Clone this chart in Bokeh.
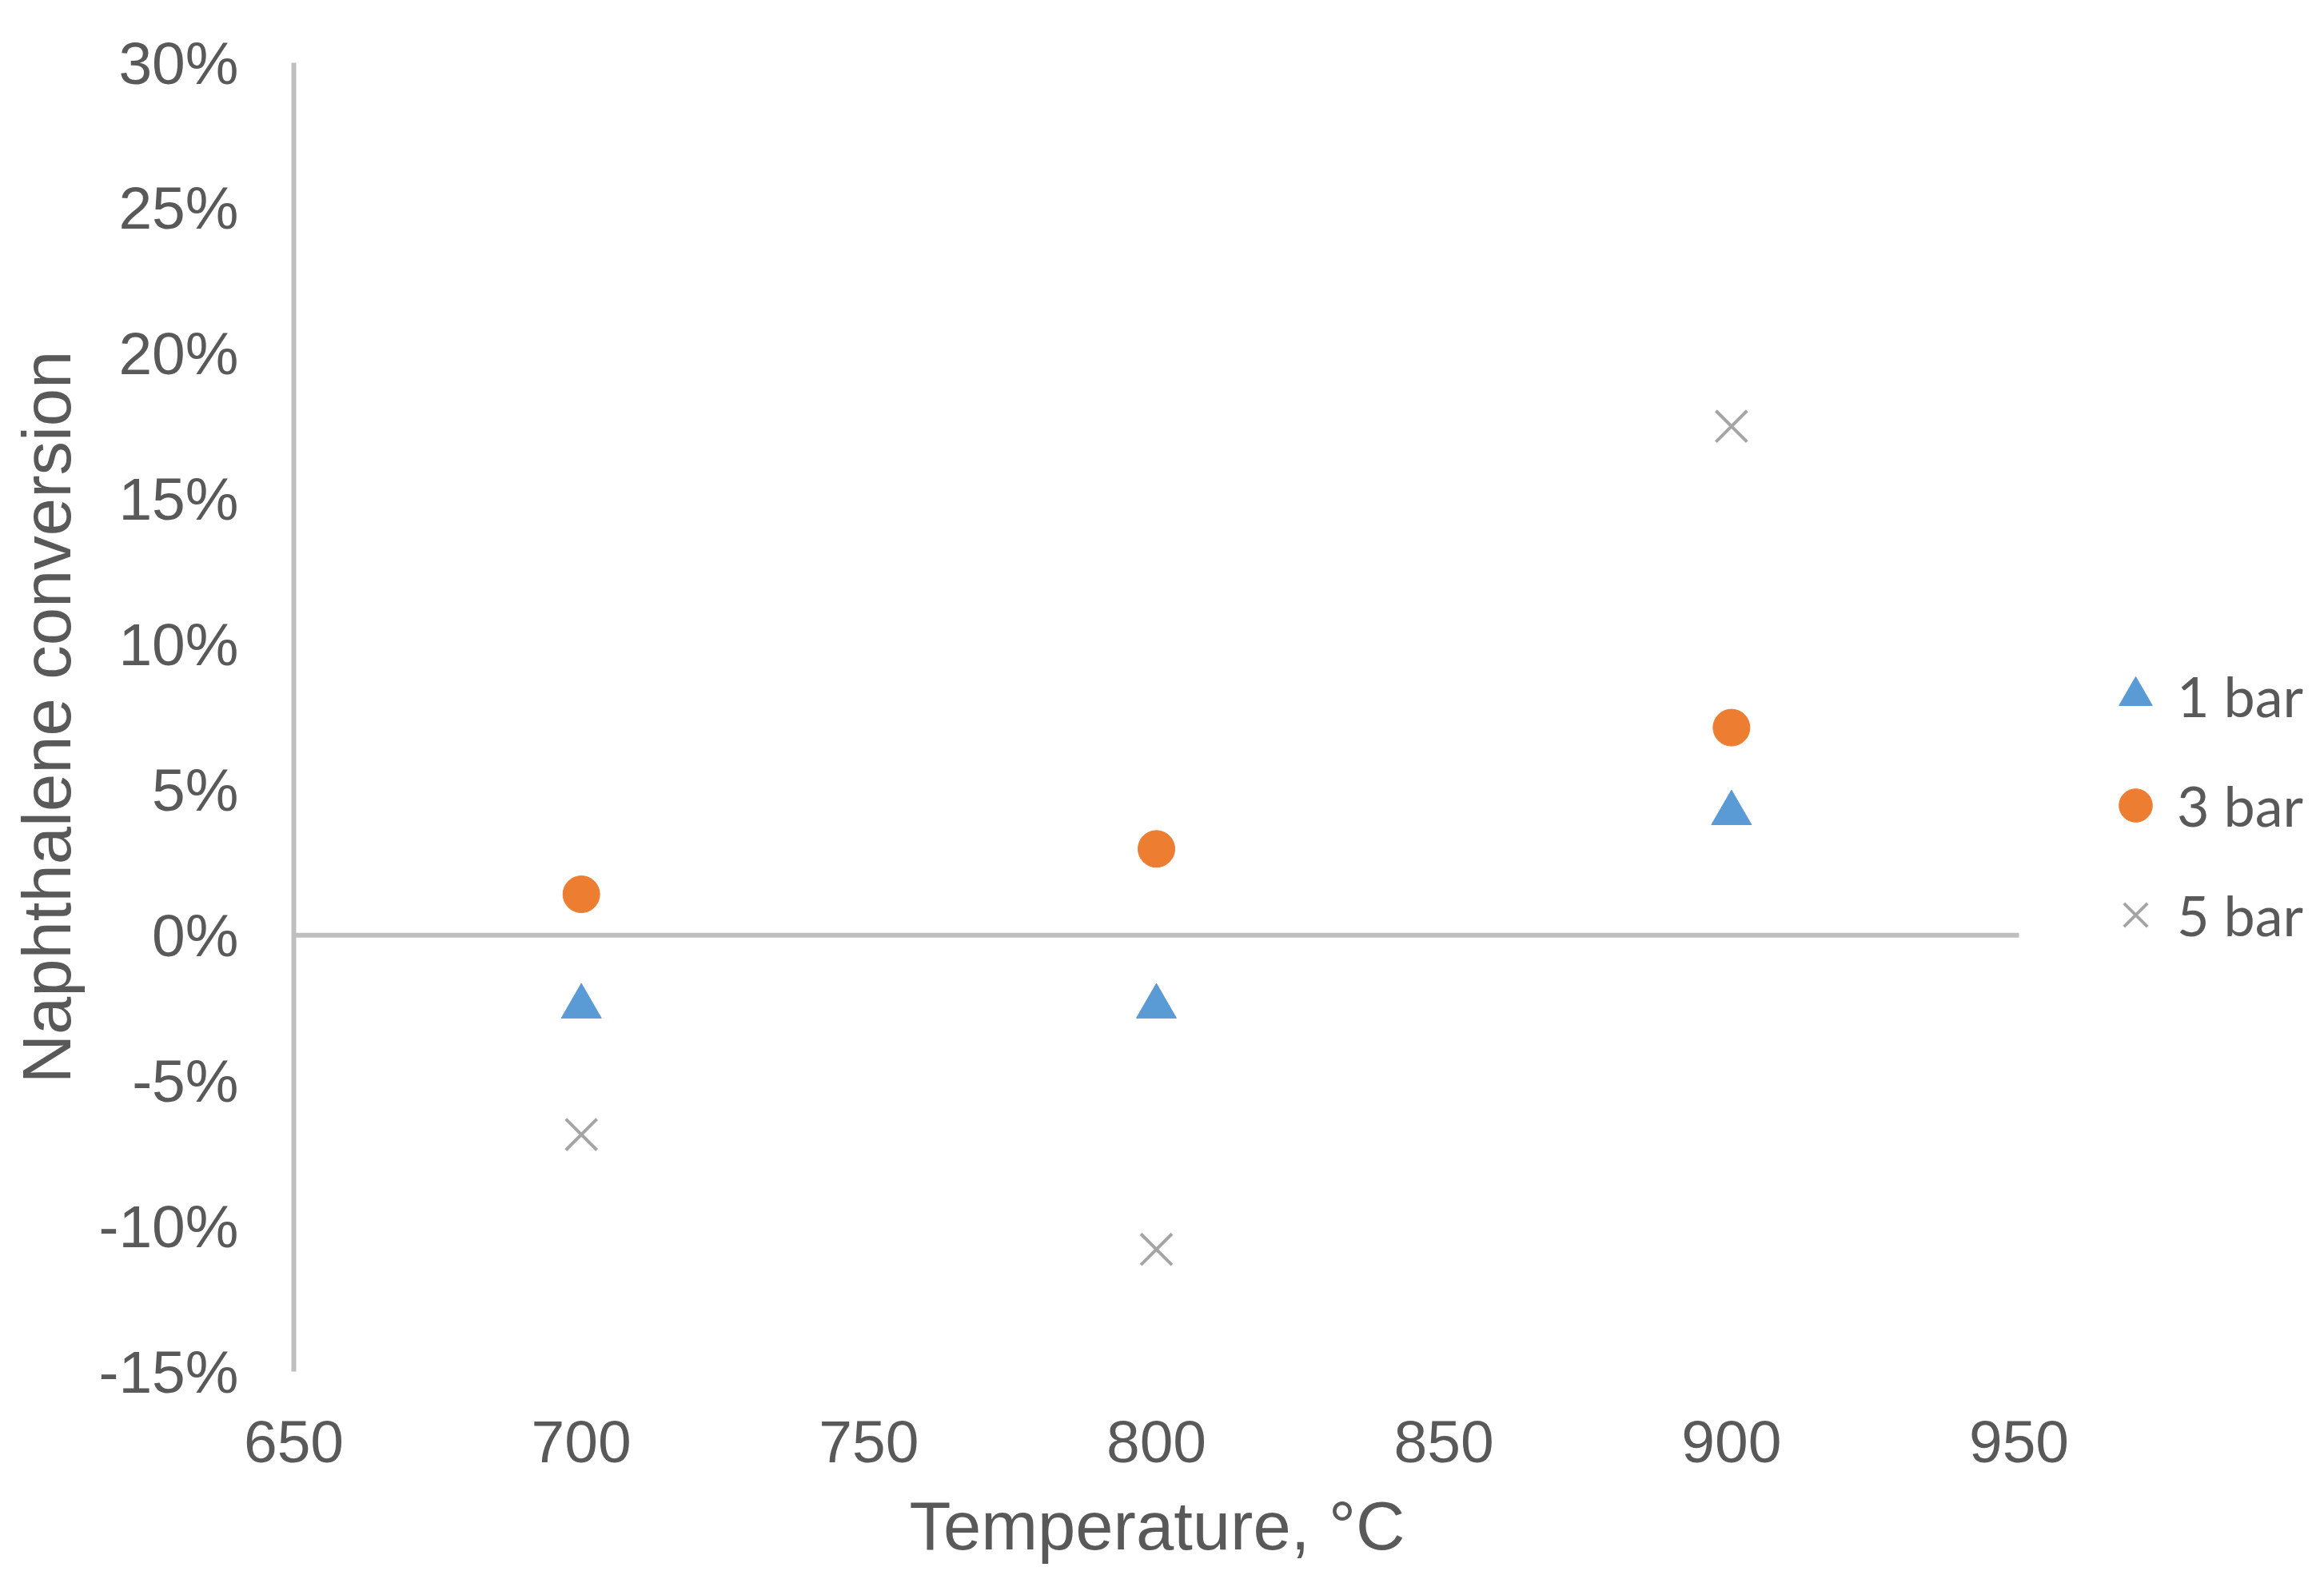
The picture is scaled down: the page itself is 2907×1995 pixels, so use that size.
from bokeh.plotting import figure
from bokeh.models import (Legend, LegendItem, FixedTicker, Title,
                          PrintfTickFormatter, Range1d, ColumnDataSource)
from bokeh.embed import file_html
from bokeh.resources import INLINE

# ---- data ----
temperature = [700, 800, 900]
conv_1bar = [-2.45, -2.45, 4.2]
conv_3bar = [1.41, 2.97, 7.14]
conv_5bar = [-6.85, -10.8, 17.5]
series_names = ["1 bar", "3 bar", "5 bar"]
x_ticks = [650, 700, 750, 800, 850, 900, 950]
y_ticks = [-15, -10, -5, 0, 5, 10, 15, 20, 25, 30]
x_title = "Temperature, °C"
y_title = "Naphthalene conversion"

TXT = "#595959"
AX = "#BFBFBF"

# ---- layout (pixels) ----
W, H = 2899, 1987
FRAME_LEFT, FRAME_TOP = 367, 78
AXIS_SPAN_PX = 2158          # width of the 650..950 axis
FRAME_H = 1637
x_lo, x_hi = x_ticks[0], x_ticks[-1]
# the frame runs to the figure's right edge so the legend can sit inside it
x_end = x_lo + (x_hi - x_lo) * (W - FRAME_LEFT) / AXIS_SPAN_PX

p = figure(width=W, height=H, output_backend="svg", toolbar_location=None,
           x_range=Range1d(x_lo, x_end), y_range=Range1d(y_ticks[0], y_ticks[-1]),
           min_border_left=FRAME_LEFT, min_border_top=FRAME_TOP, min_border_right=0,
           min_border_bottom=H - FRAME_TOP - FRAME_H)
p.outline_line_color = None
p.grid.visible = False
p.background_fill_color = "white"
p.border_fill_color = "white"

# x axis
xa = p.xaxis[0]
xa.ticker = FixedTicker(ticks=x_ticks)
xa.axis_line_color = None
xa.major_tick_line_color = None
xa.minor_tick_line_color = None
xa.major_label_text_font = "Liberation Sans"
xa.major_label_text_font_size = "75px"
xa.major_label_text_color = TXT
xa.major_label_standoff = 56

# x axis title, centred under the 650..950 axis
p.add_layout(Title(text=x_title, align="left", offset=770, standoff=55,
                   text_font="Liberation Sans", text_font_size="85px",
                   text_font_style="normal", text_color=TXT), "below")

# y axis
ya = p.yaxis[0]
ya.ticker = FixedTicker(ticks=y_ticks)
ya.formatter = PrintfTickFormatter(format="%d%%")
ya.axis_line_color = AX
ya.axis_line_width = 6
ya.major_tick_line_color = None
ya.minor_tick_line_color = None
ya.major_label_text_font = "Liberation Sans"
ya.major_label_text_font_size = "75px"
ya.major_label_text_color = TXT
ya.major_label_standoff = 63
ya.axis_label = y_title
ya.axis_label_text_font = "Liberation Sans"
ya.axis_label_text_font_size = "85px"
ya.axis_label_text_font_style = "normal"
ya.axis_label_text_color = TXT
ya.axis_label_standoff = 14

# zero line across the 650..950 axis
p.segment(x0=[x_lo], y0=[0], x1=[x_hi], y1=[0], line_color=AX, line_width=6)

src = ColumnDataSource(dict(t=temperature, a=conv_1bar, b=conv_3bar, c=conv_5bar))
r1 = p.scatter("t", "a", source=src, marker="triangle", size=50,
               fill_color="#5B9BD5", line_color="#5B9BD5", line_width=1)
r2 = p.scatter("t", "b", source=src, marker="circle", size=46,
               fill_color="#ED7D31", line_color="#ED7D31", line_width=1)
r3 = p.scatter("t", "c", source=src, marker="x", size=55,
               line_color="#A5A5A5", line_width=4)

legend = Legend(items=[LegendItem(label=series_names[0], renderers=[r1]),
                       LegendItem(label=series_names[1], renderers=[r2]),
                       LegendItem(label=series_names[2], renderers=[r3])],
                location=(2252, 511))
legend.glyph_width = 104
legend.glyph_height = 120
legend.label_standoff = 0
legend.spacing = 17
legend.padding = 0
legend.margin = 0
legend.border_line_color = None
legend.background_fill_alpha = 0
legend.label_text_font = "Lato"
legend.label_text_font_size = "70px"
legend.label_text_color = TXT
p.add_layout(legend, "center")

open("out.html", "w").write(file_html(p, INLINE))
